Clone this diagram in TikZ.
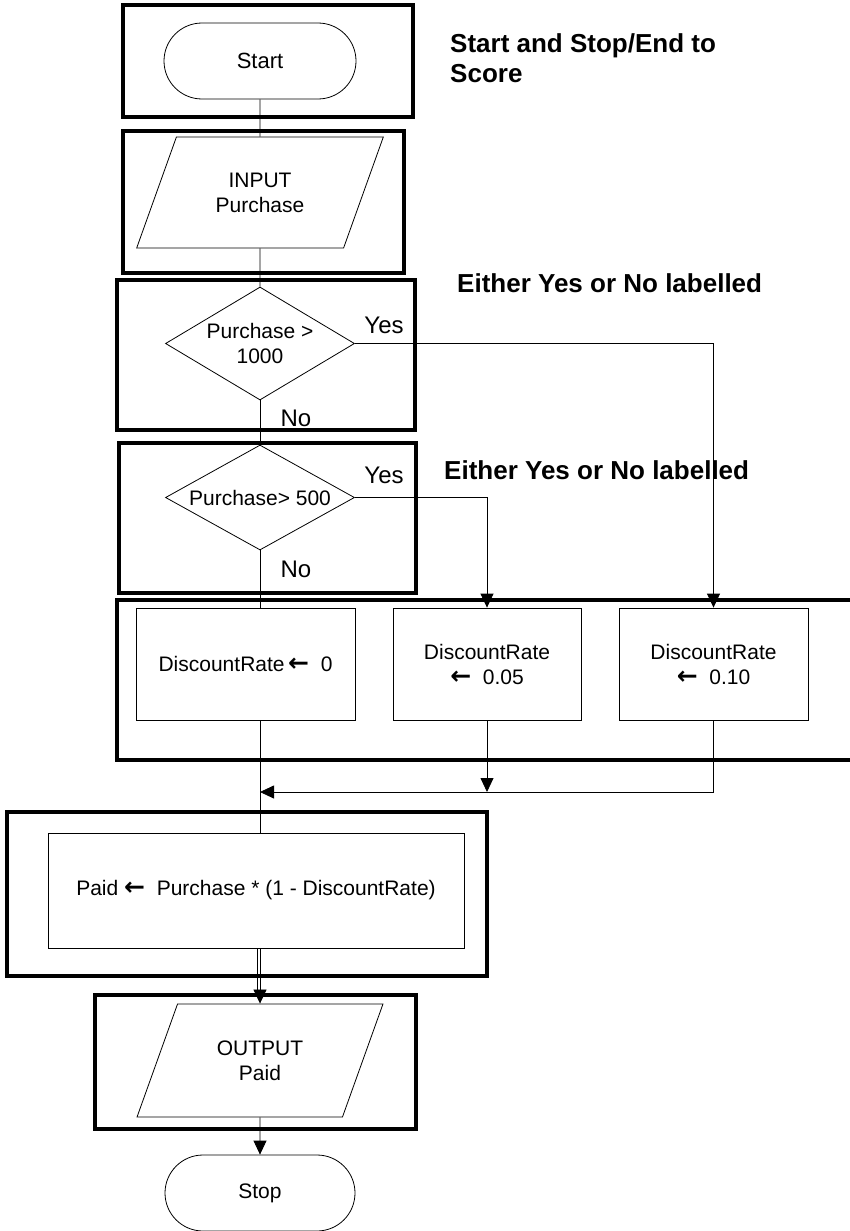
\documentclass[tikz,border=0pt]{standalone}
\usepackage{fontspec}
\setmainfont{Liberation Sans}
\newfontfamily\arrfont{DejaVu Sans}
\usetikzlibrary{shapes.geometric,shapes.misc,arrows.meta}
\newcommand{\myarr}{{\arrfont\bfseries\fontsize{25}{25}\selectfont ←}}
\begin{document}
\begin{tikzpicture}[x=1pt,y=-1pt,
  conn/.style={line width=0.8pt},
  frame/.style={line width=4pt, line join=miter},
  bodyf/.style={font=\fontsize{21}{25}\selectfont},
  term/.style={rounded rectangle, draw, line width=0.8pt, minimum width=192pt, minimum height=76pt, inner sep=0pt, bodyf},
  io/.style={trapezium, trapezium left angle=62, trapezium right angle=118, trapezium stretches=true, draw, line width=0.8pt, minimum width=247pt, minimum height=111pt, inner sep=0pt, align=center, bodyf},
  dec/.style={diamond, draw, line width=0.8pt, aspect=1.67, minimum width=189pt, minimum height=113pt, inner sep=0pt, align=center, bodyf},
  proc/.style={rectangle, draw, line width=0.8pt, minimum height=112pt, inner sep=0pt, align=center, bodyf},
  lbl/.style={font=\fontsize{24}{28}\selectfont, inner sep=0pt},
  note/.style={font=\bfseries\fontsize{26}{30}\selectfont, inner sep=0pt, align=left, anchor=west},
  arrow/.style={conn, -{Triangle[width=13pt,length=14pt]}}
]
\clip (0,0) rectangle (850,1231);
% frames
\draw[frame] (123,5) rectangle (413,117);
\draw[frame] (123,131) rectangle (404,273);
\draw[frame] (117,280) rectangle (415,430);
\draw[frame] (119,443) rectangle (416,593);
\draw[frame] (117,600) rectangle (880,760);
\draw[frame] (7,812) rectangle (487,976);
\draw[frame] (95,995) rectangle (416,1129);
% nodes
\node[term, font=\fontsize{22}{26}\selectfont] (start) at (260,61) {Start};
\node[io] (inp) at (260,192.5) {INPUT\\Purchase};
\node[dec] (d1) at (260,343.5) {Purchase >\\1000};
\node[dec, aspect=1.8, minimum height=105pt] (d2) at (260,497.5) {Purchase> 500};
\node[proc, minimum width=219pt] (dr0) at (245.5,664) {DiscountRate\,\myarr\ \ 0};
\node[proc, minimum width=188pt] (dr5) at (487,664) {DiscountRate\\\myarr\ \ 0.05};
\node[proc, minimum width=189pt] (dr10) at (713.5,664) {DiscountRate\\\myarr\ \ 0.10};
\node[proc, minimum width=416pt, minimum height=115pt] (paid) at (256,890.5) {Paid \myarr\ \ Purchase * (1 - DiscountRate)};
\node[io, minimum height=113pt, minimum width=246pt] (out) at (260,1060.5) {OUTPUT\\Paid};
\node[term, minimum width=190pt, font=\fontsize{21}{25}\selectfont] (stop) at (260,1193) {Stop};
% labels
\node[lbl] (y1) at (384,325) {Yes};
\node[lbl] (n1) at (296,418) {No};
\node[lbl] (y2) at (384,475) {Yes};
\node[lbl] (n2) at (296,569) {No};
\node[note] (t1) at (450,58) {Start and Stop/End to\\Score};
\node[note] (t2) at (457,283) {Either Yes or No labelled};
\node[note] (t3) at (444,470) {Either Yes or No labelled};
% connectors
\coordinate (m) at (260,792);
\draw[conn] (start) -- (inp);
\draw[conn] (inp) -- (d1);
\draw[conn] (d1) -- (d2);
\draw[conn] (d2.south) -- (d2.south |- dr0.north);
\draw[conn] (d2.south |- dr0.south) -- (d2.south |- paid.north);
\draw[arrow] (d1.east) -| (dr10.north);
\draw[arrow] (d2.east) -| (dr5.north);
\draw[arrow] (dr5.south) -- (dr5.south |- m);
\draw[arrow] (dr10.south) |- (m);
\draw[arrow] (paid.south -| out.north) -- (out.north);
\draw[conn] ([xshift=-3pt]paid.south -| out.north) -- ([xshift=-3pt,yshift=14pt]out.north);
\draw[arrow] (out.south) -- (stop.north);
\end{tikzpicture}
\end{document}
